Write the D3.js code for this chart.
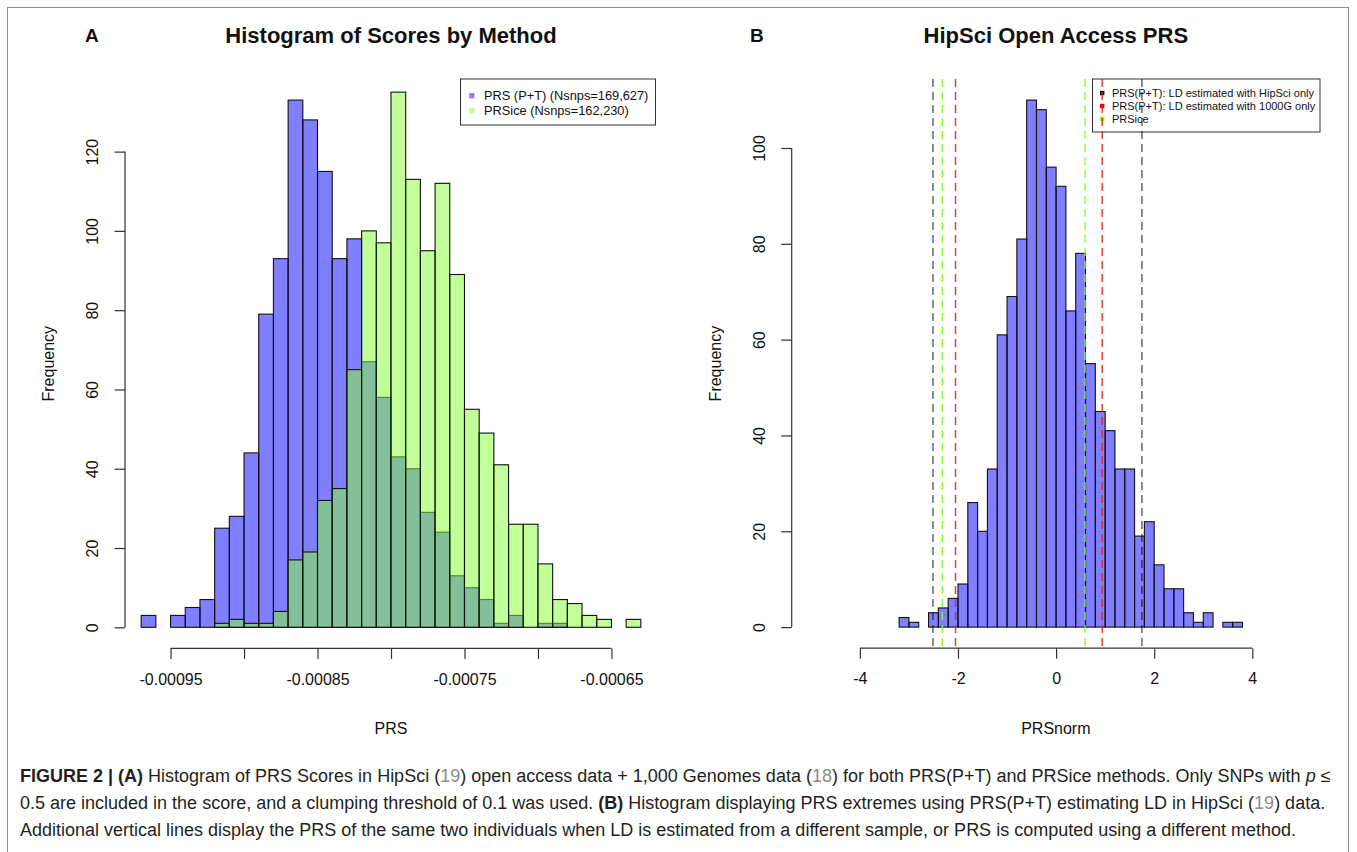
<!DOCTYPE html>
<html>
<head>
<meta charset="utf-8">
<script src="https://cdn.jsdelivr.net/npm/d3@7"></script>
<style>
  html, body { margin: 0; padding: 0; background: #fff; }
  svg { display: block; font-family: "Liberation Sans", Arial, Helvetica, sans-serif; }
</style>
</head>
<body>
<svg id="chart" width="1357" height="852"></svg>
<script>
// ---------------- DATA ----------------
// Panel A: histogram bins (PRS), 34 bins of width 0.00001 starting at -0.00097
const binStartA = -0.00097;
const binWidthA = 0.00001;
const countsPT  = [3,0,3,5,7,25,28,44,79,93,133,128,115,93,98,67,58,43,40,29,24,13,10,7,1,3,0,1,1,0,0,0,0,0];
const countsIce = [0,0,0,0,0,1,2,1,1,4,17,19,32,35,65,100,97,135,113,95,112,89,55,49,41,26,26,16,7,6,3,2,0,2];
const xTicksA = [-0.00095,-0.0009,-0.00085,-0.0008,-0.00075,-0.0007,-0.00065];
const xTickLabelsA = ["-0.00095","","-0.00085","","-0.00075","","-0.00065"];
const yTicksA = [0,20,40,60,80,100,120];
const legendA = ["PRS (P+T) (Nsnps=169,627)", "PRSice (Nsnps=162,230)"];

// Panel B: histogram of PRSnorm, 35 bins of width 0.2 starting at -3.2
const binStartB = -3.2;
const binWidthB = 0.2;
const countsNorm = [2,1,0,3,4,6,9,26,20,33,61,69,81,110,108,96,92,66,78,55,45,41,33,33,19,22,13,8,8,3,1,3,0,1,1];
const xTicksB = [-4,-2,0,2,4];
const yTicksB = [0,20,40,60,80,100];
const lineHipSci = [-2.51, 1.75];
const line1000G  = [-2.05, 0.94];
const linePRSice = [-2.32, 0.59];
const legendB = ["PRS(P+T): LD estimated with HipSci only", "PRS(P+T): LD estimated with 1000G only", "PRSice"];

// ---------------- STYLE ----------------
const BLUE = "rgba(0,0,255,0.5)";
const GREEN = "rgba(135,255,50,0.5)";
const FONT = '"Liberation Sans", Arial, Helvetica, sans-serif';

const svg = d3.select("#chart");

// Figure frame
svg.append("rect").attr("x",7.5).attr("y",7.5).attr("width",1341).attr("height",860)
  .attr("fill","none").attr("stroke","#8c8c8c").attr("stroke-width",1);

function bins(start, width, counts){
  return counts.map((c,i)=>({x0:start+i*width, x1:start+(i+1)*width, n:c}));
}

function drawAxes(g, x, y, xt, xtl, yt, left, bottom){
  const xa = g.append("g").attr("transform",`translate(0,${bottom})`)
    .call(d3.axisBottom(x).tickValues(xt).tickFormat((d,i)=>xtl[i]).tickSize(10.5).tickSizeOuter(0));
  xa.select(".domain").remove();
  xa.append("line").attr("x1",x(xt[0])).attr("x2",x(xt[xt.length-1])).attr("stroke","#333").attr("stroke-width",1.2);
  xa.selectAll(".tick line").attr("stroke","#333").attr("stroke-width",1.2);
  xa.selectAll("text").attr("font-size",16).attr("font-family",FONT).attr("fill","#111").attr("dy","0.32em").attr("y",31);
  const ya = g.append("g").attr("transform",`translate(${left},0)`)
    .call(d3.axisLeft(y).tickValues(yt).tickFormat(d3.format("d")).tickSize(10.5).tickSizeOuter(0));
  ya.select(".domain").remove();
  ya.append("line").attr("y1",y(yt[0])).attr("y2",y(yt[yt.length-1])).attr("stroke","#333").attr("stroke-width",1.2);
  ya.selectAll(".tick line").attr("stroke","#333").attr("stroke-width",1.2);
  ya.selectAll("text").attr("x",null).attr("dy",null)
    .attr("transform","translate(-32.3,0) rotate(-90)")
    .attr("text-anchor","middle").attr("dominant-baseline","central")
    .attr("font-size",16).attr("font-family",FONT).attr("fill","#111");
}

// ---------------- PANEL A ----------------
const A = {left:125, right:657, top:79, bottom:648.4};
const xA = d3.scaleLinear().domain([-0.000981, -0.000619]).range([A.left, A.right]);
const yA = d3.scaleLinear().domain([-5.32, 138.32]).range([A.bottom, A.top]);
const gA = svg.append("g");

gA.append("g").selectAll("rect").data(bins(binStartA, binWidthA, countsPT)).join("rect")
  .attr("x",d=>xA(d.x0)).attr("width",d=>xA(d.x1)-xA(d.x0))
  .attr("y",d=>yA(d.n)).attr("height",d=>yA(0)-yA(d.n))
  .attr("fill",BLUE).attr("stroke","#111").attr("stroke-width",1.1);
gA.append("g").selectAll("rect").data(bins(binStartA, binWidthA, countsIce)).join("rect")
  .attr("x",d=>xA(d.x0)).attr("width",d=>xA(d.x1)-xA(d.x0))
  .attr("y",d=>yA(d.n)).attr("height",d=>yA(0)-yA(d.n))
  .attr("fill",GREEN).attr("stroke","#111").attr("stroke-width",1.1);

drawAxes(gA, xA, yA, xTicksA, xTickLabelsA, yTicksA, A.left, A.bottom);

gA.append("text").attr("x",(A.left+A.right)/2).attr("y",43).attr("text-anchor","middle")
  .attr("font-size",22).attr("font-weight","bold").attr("fill","#111").text("Histogram of Scores by Method");
gA.append("text").attr("x",85).attr("y",42).attr("font-size",19).attr("font-weight","bold").attr("fill","#111").text("A");
gA.append("text").attr("x",(A.left+A.right)/2).attr("y",734).attr("text-anchor","middle")
  .attr("font-size",16).attr("fill","#111").text("PRS");
gA.append("text").attr("transform",`translate(48.3,${(A.top+A.bottom)/2}) rotate(-90)`)
  .attr("text-anchor","middle").attr("dominant-baseline","central")
  .attr("font-size",16).attr("fill","#111").text("Frequency");

// legend A
const legA = gA.append("g");
legA.append("rect").attr("x",460.5).attr("y",A.top).attr("width",195).attr("height",46)
  .attr("fill","#fff").attr("stroke","#333").attr("stroke-width",1);
[BLUE, GREEN].forEach((c,i)=>{
  const yy = 95.7 + i*15;
  legA.append("rect").attr("x",469.2).attr("y",yy-2.6).attr("width",5.2).attr("height",5.2).attr("fill",c);
  legA.append("text").attr("x",484).attr("y",yy).attr("dominant-baseline","central")
    .attr("font-size",12.8).attr("fill","#111").text(legendA[i]);
});

// ---------------- PANEL B ----------------
const B = {left:791.7, right:1320, top:79, bottom:648.2};
const xB = d3.scaleLinear().domain([-5.39, 5.38]).range([B.left, B.right]);
const yB = d3.scaleLinear().domain([-4.4, 114.4]).range([B.bottom, B.top]);
const gB = svg.append("g");

gB.append("g").selectAll("rect").data(bins(binStartB, binWidthB, countsNorm)).join("rect")
  .attr("x",d=>xB(d.x0)).attr("width",d=>xB(d.x1)-xB(d.x0))
  .attr("y",d=>yB(d.n)).attr("height",d=>yB(0)-yB(d.n))
  .attr("fill",BLUE).attr("stroke","#111").attr("stroke-width",1.1);

drawAxes(gB, xB, yB, xTicksB, xTicksB.map(String), yTicksB, B.left, B.bottom);

// legend B (transparent box, lines drawn over it)
const legB = gB.append("g");
legB.append("rect").attr("x",1092.5).attr("y",B.top).attr("width",227.5).attr("height",53)
  .attr("fill","none").attr("stroke","#333").attr("stroke-width",1);
["#000","#ee0000","#7cff1a"].forEach((c,i)=>{
  const yy = 93 + i*13;
  legB.append("rect").attr("x",1100).attr("y",yy-2.2).attr("width",4.4).attr("height",4.4).attr("fill",c);
  legB.append("text").attr("x",1112).attr("y",yy).attr("dominant-baseline","central")
    .attr("font-size",11).attr("fill","#111").text(legendB[i]);
});

// vertical dashed lines
const vlines = [
  {vals:lineHipSci, color:"rgba(0,0,0,0.75)", w:1.2, dash:"8,5"},
  {vals:line1000G,  color:"rgba(230,30,30,0.85)", w:1.5, dash:"8,5"},
  {vals:linePRSice, color:"#80ff20", w:1.3, dash:"8,5"}
];
vlines.forEach(v=>{
  gB.append("g").selectAll("line").data(v.vals).join("line")
    .attr("x1",d=>xB(d)).attr("x2",d=>xB(d)).attr("y1",B.top).attr("y2",B.bottom)
    .attr("stroke",v.color).attr("stroke-width",v.w).attr("stroke-dasharray",v.dash);
});

gB.append("text").attr("x",(B.left+B.right)/2).attr("y",43).attr("text-anchor","middle")
  .attr("font-size",22).attr("font-weight","bold").attr("fill","#111").text("HipSci Open Access PRS");
gB.append("text").attr("x",750).attr("y",42).attr("font-size",19).attr("font-weight","bold").attr("fill","#111").text("B");
gB.append("text").attr("x",(B.left+B.right)/2).attr("y",734).attr("text-anchor","middle")
  .attr("font-size",16).attr("fill","#111").text("PRSnorm");
gB.append("text").attr("transform",`translate(715,${(B.top+B.bottom)/2}) rotate(-90)`)
  .attr("text-anchor","middle").attr("dominant-baseline","central")
  .attr("font-size",16).attr("fill","#111").text("Frequency");

// ---------------- CAPTION ----------------
const captionLines = [
  [["FIGURE 2 | (A)","b"],[" Histogram of PRS Scores in HipSci (",""],["19","g"],[") open access data + 1,000 Genomes data (",""],["18","g"],[") for both PRS(P+T) and PRSice methods. Only SNPs with ",""],["p","i"],[" ≤",""]],
  [["0.5 are included in the score, and a clumping threshold of 0.1 was used. ",""],["(B)","b"],[" Histogram displaying PRS extremes using PRS(P+T) estimating LD in HipSci (",""],["19","g"],[") data.",""]],
  [["Additional vertical lines display the PRS of the same two individuals when LD is estimated from a different sample, or PRS is computed using a different method.",""]]
];
const capBase = [782, 809, 836];
captionLines.forEach((line,li)=>{
  const t = svg.append("text").attr("x",20).attr("y",capBase[li]).attr("font-size",18).attr("fill","#231f20");
  line.forEach(([s,st])=>{
    const ts = t.append("tspan").text(s);
    if (st==="b") ts.attr("font-weight","bold");
    if (st==="g") ts.attr("fill","#8c8c8c");
    if (st==="i") ts.attr("font-style","italic");
  });
});
</script>
</body>
</html>
